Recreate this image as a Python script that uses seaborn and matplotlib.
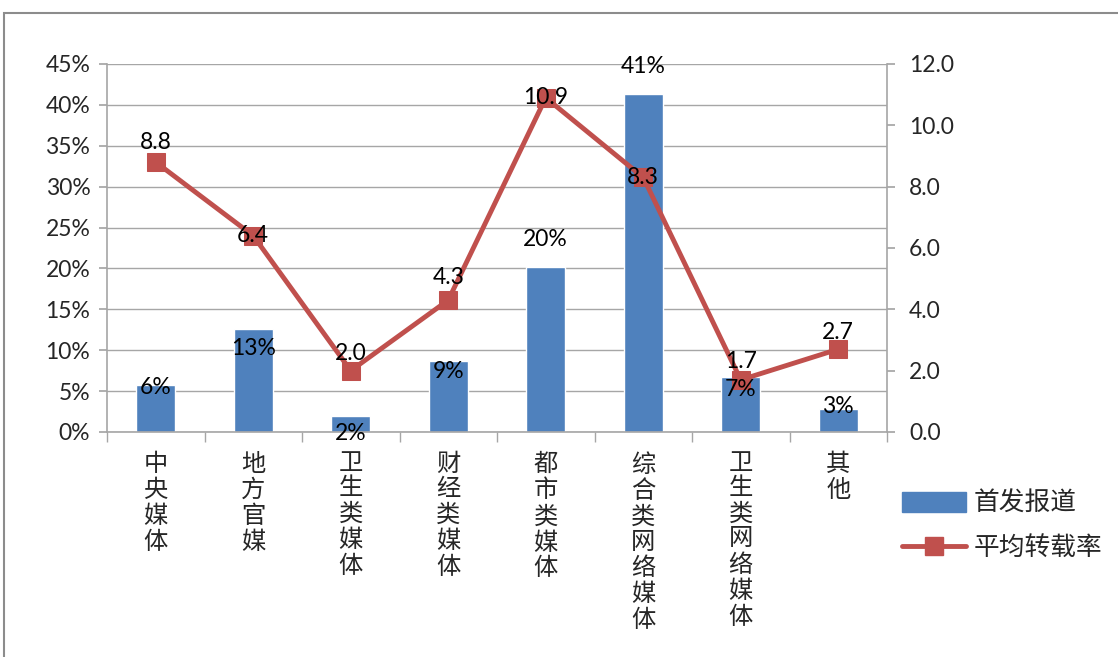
import numpy as np
import pandas as pd
import matplotlib
matplotlib.use("Agg")
import matplotlib.pyplot as plt
import seaborn as sns
from matplotlib.patches import Rectangle, Patch
from matplotlib.lines import Line2D
from matplotlib.ticker import FixedLocator

categories = ["中央媒体", "地方官媒", "卫生类媒体", "财经类媒体", "都市类媒体", "综合类网络媒体", "卫生类网络媒体", "其他"]
first_report_pct = [5.8, 12.6, 1.9, 8.7, 20.2, 41.3, 6.7, 2.8]
avg_repost_rate = [8.8, 6.4, 2.0, 4.3, 10.9, 8.3, 1.7, 2.7]
left_ticks = [0, 5, 10, 15, 20, 25, 30, 35, 40, 45]
right_ticks = [0, 2, 4, 6, 8, 10, 12]
legend_labels = ["首发报道", "平均转载率"]

# label offsets in points (style only)
bar_label_dy = [-2, -14, -12, -8, 20, 20, -9, 2]
line_label_dy = [14, 0, 12, 16, 0, 0, 13, 12]

sns.set_theme(style="white")
plt.rcParams['font.family'] = ['Lato', 'Noto Sans CJK SC']

BLUE = "#4F81BD"
RED = "#C0504D"
GRID = "#A6A6A6"
FS = 16.5

fig = plt.figure(figsize=(11.18, 6.57), dpi=100)
ax = fig.add_axes([107/1118, 1 - 432/657, (887-107)/1118, (432-64)/657])

df = pd.DataFrame({"cat": categories, "pct": first_report_pct, "rate": avg_repost_rate})
sns.barplot(data=df, x="cat", y="pct", color=BLUE, width=0.4, ax=ax, saturation=1, order=categories)
ax.set_ylim(0, 45)
ax.set_xlim(-0.5, len(categories) - 0.5)
ax.set_yticks(left_ticks)
ax.set_yticklabels([f"{t}%" for t in left_ticks], fontsize=FS)
ax.set_xlabel("")
ax.set_ylabel("")
ax.set_xticks(range(len(categories)))
ax.set_xticklabels(["\n".join(c) for c in categories], fontsize=17.5, va="top", linespacing=1.2)
ax.tick_params(axis="x", length=0, pad=15)
ax.tick_params(axis="y", length=6, color=GRID, direction="out", left=True, pad=6)
ax.xaxis.set_minor_locator(FixedLocator(np.arange(-0.5, len(categories), 1.0)))
ax.tick_params(axis="x", which="minor", length=7, color=GRID, direction="out", bottom=True)
ax.grid(axis="y", color=GRID, lw=1)
ax.set_axisbelow(True)
for s in ["left", "right", "bottom"]:
    ax.spines[s].set_color(GRID)
    ax.spines[s].set_linewidth(1.2)
ax.spines["top"].set_visible(False)

ax2 = ax.twinx()
sns.lineplot(x=np.arange(len(categories)), y=avg_repost_rate, ax=ax2, color=RED, lw=3.5,
             marker="s", markersize=13, markeredgecolor=RED, markerfacecolor=RED)
ax2.set_ylim(0, 12)
ax2.set_xlim(-0.5, len(categories) - 0.5)
ax2.set_yticks(right_ticks)
ax2.set_yticklabels([f"{t:.1f}" for t in right_ticks], fontsize=FS)
ax2.tick_params(axis="y", length=6, color=GRID, direction="out", right=True, pad=10)
ax2.grid(False)
for s in ax2.spines.values():
    s.set_visible(False)
ax2.set_ylabel("")

for i, v in enumerate(first_report_pct):
    ax2.annotate(f"{v:.0f}%", (i, v), xycoords=ax.transData, xytext=(0, bar_label_dy[i]),
                 textcoords="offset points", ha="center", va="center", fontsize=FS,
                 color="black", zorder=10)

for i, v in enumerate(avg_repost_rate):
    ax2.annotate(f"{v:.1f}", (i, v), xytext=(0, line_label_dy[i]), textcoords="offset points",
                 ha="center", va="center", fontsize=FS, color="black", zorder=10)

handles = [Patch(facecolor=BLUE, edgecolor=BLUE),
           Line2D([0], [0], color=RED, lw=3.5, marker="s", markersize=13)]
fig.legend(handles, legend_labels, loc="upper left", bbox_to_anchor=(879/1118, 1 - 468/657),
           frameon=False, fontsize=18.5, handlelength=2.5, handleheight=0.8,
           labelspacing=0.75, handletextpad=0.3)

fig.patches.append(Rectangle((4/1118, -0.1), 1.2, 1.1 - 13/657, transform=fig.transFigure,
                             fill=False, edgecolor="#8C8C8C", lw=1.5, zorder=-1))

fig.savefig("out.png", dpi=100)
